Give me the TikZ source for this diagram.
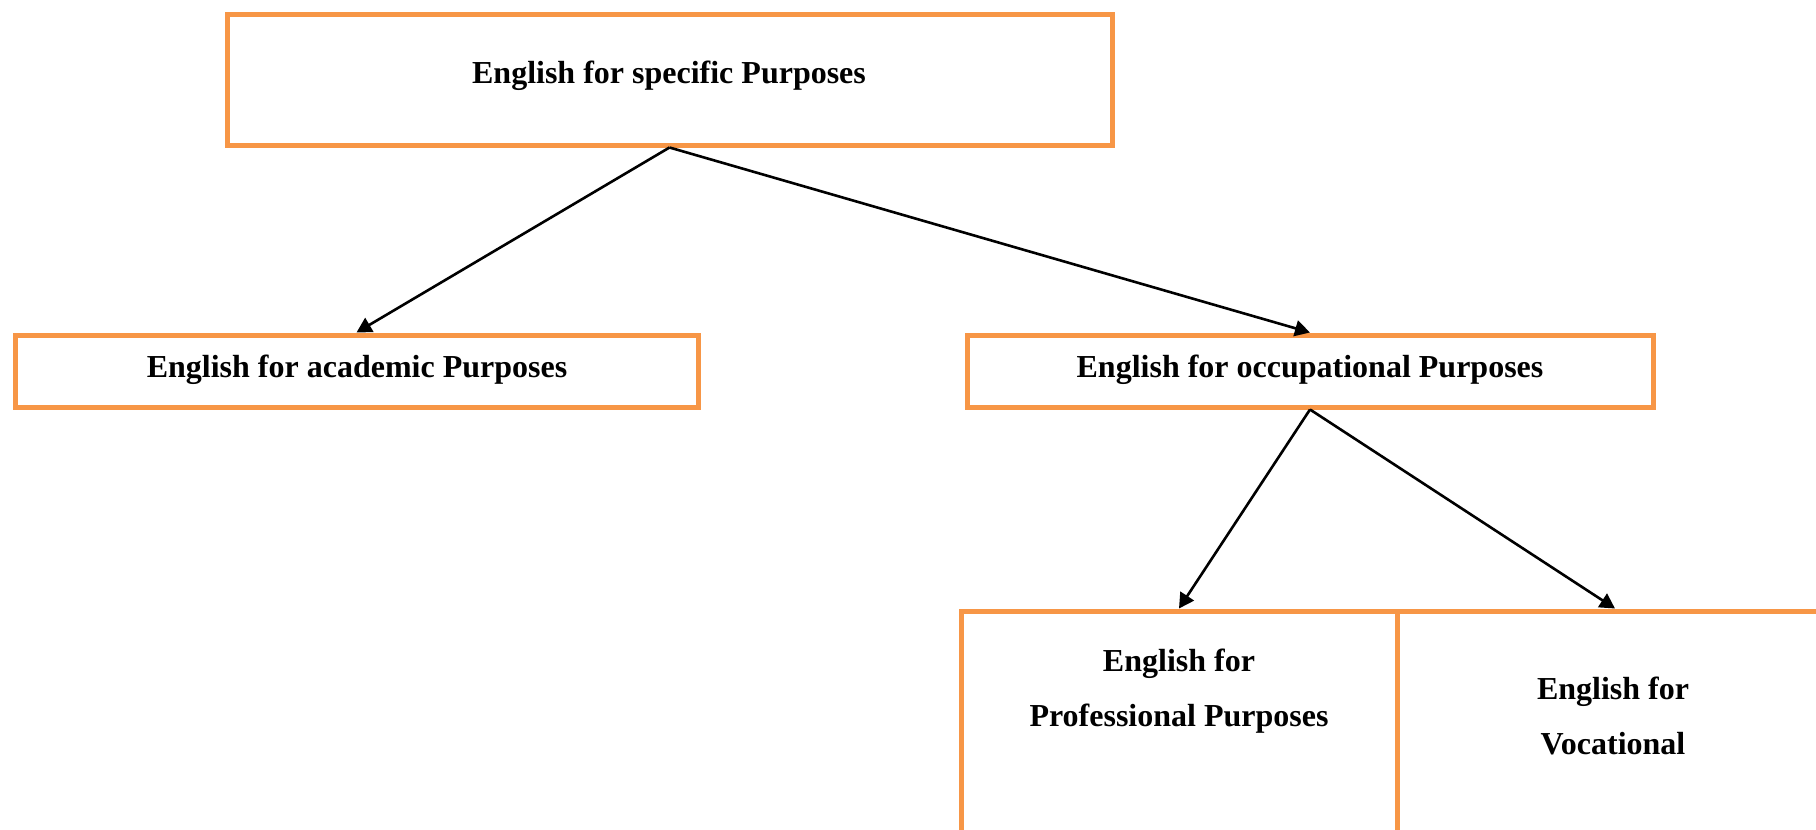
\documentclass[tikz,border=0pt]{standalone}
\usepackage{fontspec}
\setmainfont{Liberation Serif}
\usetikzlibrary{arrows.meta}
\definecolor{boxorange}{RGB}{247,150,70}
\begin{document}
\begin{tikzpicture}[x=0.5pt,y=-0.5pt,
  box/.style={rectangle, draw=boxorange, line width=2.5pt, inner sep=0pt},
  txt/.style={font=\bfseries\fontsize{16}{27.8}\selectfont, align=center, inner sep=0pt},
  link/.style={draw=black, line width=1.3pt, -{Triangle[length=7.5pt,width=8pt]}}]
  \useasboundingbox (0,0) rectangle (1816,830);
  \clip (0,0) rectangle (1816,830);

  % boxes
  \node[box, minimum width=442.5pt, minimum height=65.5pt] (esp) at (669.5,79.5) {};
  \node[box, minimum width=341.5pt, minimum height=36pt] (eap) at (356.5,371) {};
  \node[box, minimum width=343pt, minimum height=36pt] (eop) at (1310,371) {};
  \node[box, minimum width=218pt, minimum height=150pt] (epp) at (1179,761) {};
  \node[box, minimum width=218pt, minimum height=150pt] (evp) at (1615,761) {};

  % labels
  \node[txt] (espt) at (669,76) {English for specific Purposes};
  \node[txt] (eapt) at (357,370) {English for academic Purposes};
  \node[txt] (eopt) at (1310,370) {English for occupational Purposes};
  \node[txt] (eppt) at (1179,691) {English for\\Professional Purposes};
  \node[txt] (evpt) at (1613,716) {English for\\Vocational};

  % connectors
  \draw[link] (esp.south) -- (eap.north);
  \draw[link] (esp.south) -- (eop.north);
  \draw[link] (eop.south) -- (epp.north);
  \draw[link] (eop.south) -- (evp.north);
\end{tikzpicture}
\end{document}
